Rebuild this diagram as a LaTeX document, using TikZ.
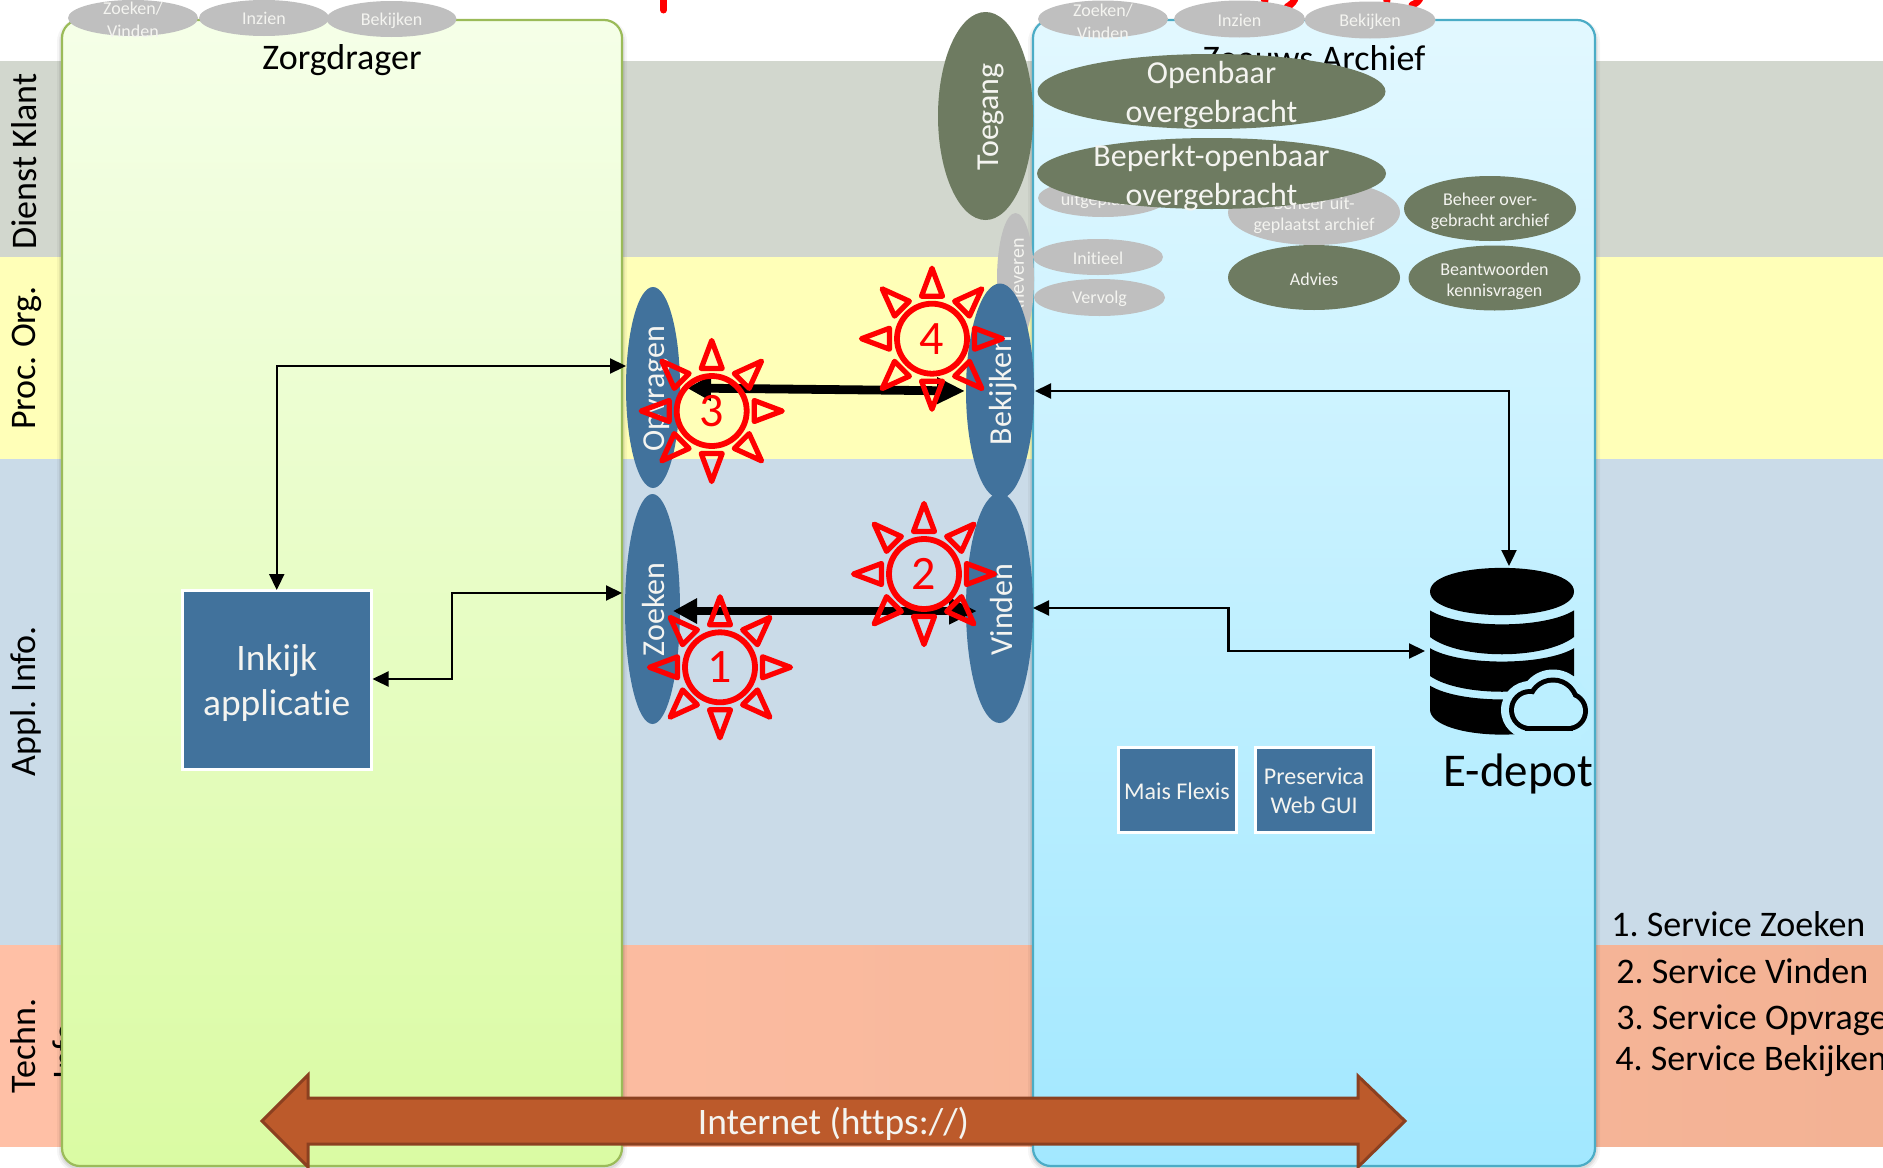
\documentclass[tikz,border=0pt]{standalone}
\usepackage{fontspec}
\usepackage{graphicx}
\setmainfont[Ligatures=NoCommon]{Carlito}
\usetikzlibrary{shapes.geometric,arrows.meta,calc}
\definecolor{bandA}{HTML}{D2D7CE}
\definecolor{bandB}{HTML}{FFFFB8}
\definecolor{bandC}{HTML}{CADBE8}
\definecolor{bandDl}{HTML}{FFC0A6}
\definecolor{bandDr}{HTML}{F3B294}
\definecolor{blueN}{HTML}{41729C}
\definecolor{greyN}{HTML}{BFBFBF}
\definecolor{oliveN}{HTML}{6E7B61}
\definecolor{greenT}{HTML}{F5FFE8}
\definecolor{greenB}{HTML}{DAFBA3}
\definecolor{greenL}{HTML}{9BBB59}
\definecolor{cyanT}{HTML}{E2F8FF}
\definecolor{cyanB}{HTML}{A2E8FF}
\definecolor{cyanL}{HTML}{4BACC6}
\definecolor{cyanM}{HTML}{BBEFFF}
\definecolor{netF}{HTML}{BC5A2B}
\definecolor{netL}{HTML}{8B4020}
\definecolor{whiteT}{HTML}{F4F4F0}
\newcommand{\fpx}[2]{\fontsize{#1}{#2}\selectfont}
% name, cx, cy, rx, ry (px), colour
\newcommand{\ovalnode}[6]{\node[ovalshape,fill=#6,minimum width=#4pt,minimum height=#5pt] (#1) at (#2,#3) {};}
\newcommand{\sunmark}[4]{%
\begin{scope}[shift={(#2,#3)}]
\node[sunring] (#1) at (0,0) {\raisebox{-0.5pt}{\fpx{24}{28}#4}};
\foreach \a in {0,45,...,315} \draw[sunray,rotate=\a] (0,70.5) -- (10.5,42.5) -- (-10.5,42.5) -- cycle;
\end{scope}}
\tikzset{
 ovalshape/.style={ellipse,draw=none,inner sep=0pt,outer sep=0pt},
 lab/.style={text=black,inner sep=0pt,align=center},
 wlab/.style={text=whiteT,inner sep=0pt,align=center},
 sm/.style={font=\fpx{9}{10.5}},
 md/.style={font=\fpx{16}{19.5}},
 bg/.style={font=\fpx{18}{21}},
 blockbox/.style={rectangle,fill=blueN,draw=white,line width=1.5pt,inner sep=0pt,outer sep=0pt},
 swim/.style={rectangle,rounded corners=9pt,line width=1.1pt,inner sep=0pt,outer sep=0pt},
 thinarrow/.style={line width=1.1pt,{Triangle[length=8pt,width=7.5pt]}-{Triangle[length=8pt,width=7.5pt]}},
 thickarrow/.style={line width=4.4pt,{Triangle[length=12pt,width=12pt]}-{Triangle[length=14pt,width=12.5pt]}},
 sunring/.style={circle,draw=red,text=red,line width=2.9pt,minimum size=35pt,inner sep=0pt,outer sep=0pt},
 sunray/.style={draw=red,line width=2.6pt,line join=round},
 redbit/.style={draw=red,line width=3.5pt,line cap=round},
}
\begin{document}
\frenchspacing
\begin{tikzpicture}[x=0.5pt,y=-0.5pt]
\useasboundingbox (0,0) rectangle (1883,1167);
\clip (0,0) rectangle (1883,1167);
% title remains
\draw[redbit] (663.5,-6) -- (663.5,10);
\draw[redbit] (1263,-4) -- (1265,1);
\draw[redbit] (1296,-4) .. controls (1294,2) and (1292,4) .. (1287,7);
\draw[redbit] (1386,-4) -- (1387,1);
\draw[redbit] (1421,-4) .. controls (1419,1) and (1417,3) .. (1412,5);
% bands
\fill[bandA] (0,61) rectangle (1883,257);
\fill[bandB] (0,257) rectangle (1883,459);
\fill[bandC] (0,459) rectangle (1883,945);
\shade[left color=bandDl,right color=bandDr] (0,945) rectangle (1883,1146);
% band labels
\node[lab,bg,rotate=90] (dienst) at (24,161.5) {Dienst Klant};
\node[lab,bg,rotate=90] (proc) at (26.5,358) {Proc. Org.};
\node[lab,bg,rotate=90] (appl) at (25.5,701) {Appl. Info.};
\node[lab,bg,rotate=90] (techn) at (23,1046) {Techn.};
\node[lab,bg,rotate=90] (info) at (65,1046) {Info.};
% swimlane shadows
\foreach \w/\o in {5/0.04,3/0.06,1.5/0.06}{
 \draw[black,opacity=\o,line width=\w pt,rounded corners=9pt] (62,24) rectangle (622,1168);
 \draw[black,opacity=\o,line width=\w pt,rounded corners=9pt] (1033,24) rectangle (1595,1168);
}
% swimlanes
\node[swim,draw=greenL,top color=greenT,bottom color=greenB,minimum width=280pt,minimum height=573pt] (zorg) at (342,593) {};
\node[swim,draw=cyanL,top color=cyanT,bottom color=cyanB,minimum width=281pt,minimum height=573pt] (archief) at (1314,593) {};
\node[lab,bg] (zorgt) at (342,60.5) {Zorgdrager};
\node[lab,bg] (archt) at (1314,58.5) {Zeeuws Archief};
% left top ovals
\ovalnode{lz}{133}{18}{65}{18}{greyN}
\ovalnode{li}{264}{18}{65}{18}{greyN}
\ovalnode{lb}{391.5}{19}{65}{18}{greyN}
\node[wlab,sm] at (133,20) {Zoeken/\\[1.0pt]Vinden};
\node[wlab,sm] at (264,18.5) {Inzien};
\node[wlab,sm] at (391.5,21) {Bekijken};
% right top ovals
\ovalnode{rz}{1103}{19}{65}{18.5}{greyN}
\ovalnode{ri}{1239.5}{19}{65.5}{18.5}{greyN}
\ovalnode{rb}{1370}{20}{65.5}{18.5}{greyN}
\node[wlab,sm] at (1103,21.5) {Zoeken/\\[1.0pt]Vinden};
\node[wlab,sm] at (1239.5,20) {Inzien};
\node[wlab,sm] at (1370,22) {Bekijken};
% grey / olive ovals
\ovalnode{uit}{1103}{198}{65}{19}{greyN}
\node[wlab,sm] at (1104,201) {uitgeplaatst};
\ovalnode{behu}{1314}{212.5}{86}{32.5}{greyN}
\node[wlab,sm] at (1314,215) {Beheer uit-\\geplaatst archief};
\ovalnode{open}{1211.5}{91.5}{174}{37.5}{oliveN}
\node[wlab,md] at (1211.5,94.5) {Openbaar\\overgebracht};
\ovalnode{bep}{1211.5}{173.5}{174.5}{35.5}{oliveN}
\node[wlab,md] at (1211.5,177.5) {Beperkt-openbaar\\overgebracht};
\ovalnode{toe}{985.5}{116}{47.5}{104}{oliveN}
\node[wlab,md,rotate=90] at (990.5,117) {Toegang};
\ovalnode{beho}{1490}{208.5}{86}{32.5}{oliveN}
\node[wlab,sm] at (1490,211) {Beheer over-\\gebracht archief};
\ovalnode{adv}{1314}{277.5}{86}{32.5}{oliveN}
\node[wlab,sm] at (1314,279) {Advies};
\ovalnode{bea}{1494.5}{278}{86}{32.5}{oliveN}
\node[wlab,sm] at (1494.5,281) {Beantwoorden\\kennisvragen};
\ovalnode{ini}{1098}{257}{65}{18}{greyN}
\node[wlab,sm] at (1098,258) {Initieel};
\ovalnode{ver}{1099.5}{297.5}{65.5}{18.5}{greyN}
\node[wlab,sm] at (1099.5,299) {Vervolg};
\ovalnode{afl}{1015.5}{279}{18.5}{66}{greyN}
\node[wlab,font=\fpx{10}{12},rotate=90,anchor=east] at (1017,238) {Afleveren};
% blue ovals
\ovalnode{opv}{653}{387.5}{27}{100.5}{blueN}
\ovalnode{zoe}{652.5}{609}{27.5}{115}{blueN}
\ovalnode{bek}{1000}{391}{34}{107.5}{blueN}
\ovalnode{vin}{999.5}{608}{33.5}{115}{blueN}
\node[wlab,md,rotate=90] at (657,388.5) {Opvragen};
\node[wlab,md,rotate=90] at (653,609.5) {Zoeken};
\node[wlab,md,rotate=90] at (1003.5,390.5) {Bekijken};
\node[wlab,md,rotate=90] at (1001,609.5) {Vinden};
% blocks
\node[blockbox,minimum width=94.5pt,minimum height=89.5pt] (inkijk) at (276.75,679.5) {};
\node[wlab,font=\fpx{18.7}{22.8}] (inkijkt) at (276.75,683) {Inkijk\\applicatie};
\node[blockbox,minimum width=59pt,minimum height=42.5pt] (mais) at (1177,789.5) {};
\node[wlab,font=\fpx{12}{14.5}] (maist) at (1177,791) {Mais Flexis};
\node[blockbox,minimum width=59pt,minimum height=42.5pt] (pres) at (1314,789.5) {};
\node[wlab,font=\fpx{12}{14.5}] (prest) at (1314,791) {Preservica\\Web GUI};
% database
\fill[black] (1430,591.5) .. controls (1430,560) and (1574,560) .. (1574,591.5) .. controls (1574,623) and (1430,623) .. (1430,591.5) -- cycle;
\fill[black] (1430,610.4) .. controls (1460,629) and (1544,629) .. (1574,610.4) -- (1574,637) .. controls (1544,660) and (1460,660) .. (1430,637) -- cycle;
\fill[black] (1430,648.2) .. controls (1460,666) and (1544,666) .. (1574,648.2) -- (1574,676) .. controls (1544,697) and (1460,697) .. (1430,676) -- cycle;
\fill[black] (1430,685.7) .. controls (1460,704) and (1544,704) .. (1574,685.7) -- (1574,709.6) .. controls (1574,725) and (1540,734.6) .. (1502,734.6) .. controls (1464,734.6) and (1430,725) .. (1430,709.6) -- cycle;
\coordinate (dbTop) at (1509,566);
\coordinate (dbLeft) at (1425,651);
% cloud: halo, outline, inside
\begin{scope}
\clip (1400,600) rectangle (1592,760);
\foreach \d/\c in {13/cyanM,5/black,0/cyanM}{
 \fill[\c] (1530,710) circle[radius={(16+\d)*0.5pt}];
 \fill[\c] (1553,704) circle[radius={(21.5+\d)*0.5pt}];
 \fill[\c] (1568,711) circle[radius={(15+\d)*0.5pt}];
 \fill[\c] ($(1530,711)+(-\d*0.5pt,0pt)$) rectangle ($(1568,726)+(\d*0.5pt,\d*-0.5pt)$);
}
\end{scope}
\node[lab,font=\fpx{23.5}{26},anchor=base west] (edepot) at (1443,786.5) {E-depot};
% connectors
\coordinate (opvIn) at (626,366);
\coordinate (zoeIn) at (622,593);
\coordinate (bekIn) at (1035,391);
\coordinate (vinIn) at (1033,608);
\coordinate (inkR) at (372.5,679);
\coordinate (opvTip) at (687,388);
\coordinate (bekTip) at (965,391);
\coordinate (zoeTip) at (673,611);
\coordinate (vinTip) at (977,611);
\draw[thinarrow] (inkijk.north) |- (opvIn);
\draw[thinarrow] (inkR) -- (451.7,679) -- (451.7,593) -- (zoeIn);
\draw[thinarrow] (bekIn) -| (dbTop);
\draw[thinarrow] (vinIn) -- (1228.5,608) -- (1228.5,651) -- (dbLeft);
\draw[thickarrow] (opvTip) -- (bekTip);
\draw[thickarrow] (zoeTip) -- (vinTip);
% suns
\sunmark{s1}{720}{667.3}{1}
\sunmark{s2}{924}{574}{2}
\sunmark{s3}{711.7}{411}{3}
\sunmark{s4}{932}{338.7}{4}
% internet
\draw[fill=netF,draw=netL,line width=1.5pt,miter limit=6] (262,1121) -- (308,1075) -- (308,1098) -- (1358,1098) -- (1358,1076) -- (1405,1121) -- (1358,1167) -- (1358,1144) -- (308,1144) -- (308,1167) -- cycle;
\node[wlab,font=\fpx{18.7}{21}] (net) at (833.5,1124) {Internet (https://)};
% legend
\node[lab,bg,anchor=base west] (l1) at (1611,936.6) {1. Service Zoeken};
\node[lab,bg,anchor=base west] (l2) at (1616,983.4) {2. Service Vinden};
\node[lab,bg,anchor=base west] (l3) at (1616,1029.5) {3. Service Opvragen};
\node[lab,bg,anchor=base west] (l4) at (1615,1070.6) {4. Service Bekijken};
\end{tikzpicture}
\end{document}
